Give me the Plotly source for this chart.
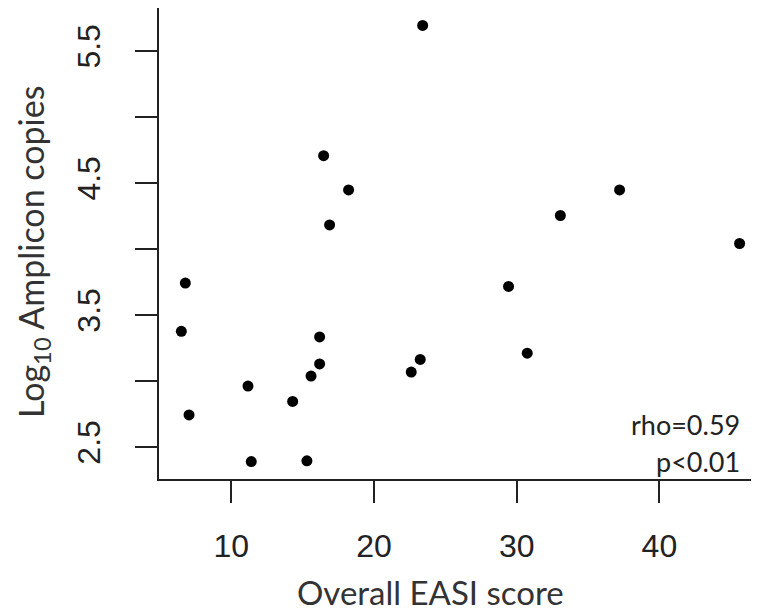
import plotly.graph_objects as go

# Data
easi_score = [6.78, 6.50, 7.04, 11.17, 11.40, 14.30, 15.30, 15.59, 16.19, 16.19, 16.47,
              16.89, 18.22, 22.61, 23.24, 23.41, 29.43, 30.74, 33.06, 37.21, 45.62]
log10_copies = [3.743, 3.378, 2.744, 2.963, 2.391, 2.847, 2.397, 3.039, 3.131, 3.335, 4.708,
                4.184, 4.449, 3.069, 3.165, 5.695, 3.718, 3.212, 4.255, 4.449, 4.043]

x_ticks = [10, 20, 30, 40]
x_tick_labels = ["10", "20", "30", "40"]
y_ticks = [2.5, 3.5, 4.5, 5.5]
y_tick_labels = ["2.5", "3.5", "4.5", "5.5"]
y_unlabelled_ticks = [3.0, 4.0, 5.0]

stat_rho = "rho=0.59"
stat_p = "p<0.01"
x_title = "Overall EASI score"
y_title = "Log<sub>10</sub> Amplicon copies"

fig = go.Figure()
fig.add_trace(go.Scatter(
    x=easi_score, y=log10_copies, mode="markers",
    marker=dict(color="black", size=11, line=dict(width=0)),
    showlegend=False, hoverinfo="x+y",
))

tick_font = dict(family="Liberation Sans, Arial, sans-serif", size=32, color="#222222")
label_font = "Lato, Open Sans, sans-serif"

# The page body adds an 8px offset, so the figure is 8px smaller than the window.
fig.update_layout(
    width=751, height=608,
    margin=dict(l=151, r=0, t=0, b=137, autoexpand=False),
    paper_bgcolor="white", plot_bgcolor="white",
    xaxis=dict(
        range=[4.935, 46.98], tickvals=x_ticks, ticktext=x_tick_labels,
        showgrid=False, zeroline=False, automargin=False,
        showline=True, mirror=True, linecolor="#222222", linewidth=2,
        ticks="outside", ticklen=22, tickwidth=2, tickcolor="#222222",
        tickfont=tick_font, ticklabelstandoff=16,
    ),
    yaxis=dict(
        range=[2.259, 5.827], tickvals=y_ticks, ticktext=y_tick_labels,
        showgrid=False, zeroline=False, automargin=False,
        showline=True, mirror=False, linecolor="#222222", linewidth=2,
        ticks="outside", ticklen=22, tickwidth=2, tickcolor="#222222",
        tickfont=tick_font, tickangle=-90, ticklabelstandoff=22,
        minor=dict(tickvals=y_unlabelled_ticks, ticks="outside", ticklen=22,
                   tickwidth=2, tickcolor="#222222", showgrid=False),
    ),
    annotations=[
        dict(text=x_title, xref="paper", yref="paper", x=0.452, y=-0.240,
             xanchor="center", yanchor="middle", showarrow=False,
             font=dict(family=label_font, size=33, color="#333333")),
        dict(text=y_title, xref="paper", yref="paper", x=-0.21, y=0.482,
             xanchor="center", yanchor="middle", showarrow=False, textangle=-90,
             borderpad=0,
             font=dict(family=label_font, size=34, color="#333333")),
        dict(text=stat_rho, xref="paper", yref="paper", x=0.972, y=0.115,
             xanchor="right", yanchor="middle", showarrow=False,
             font=dict(family=label_font, size=27, color="#222222")),
        dict(text=stat_p, xref="paper", yref="paper", x=0.972, y=0.038,
             xanchor="right", yanchor="middle", showarrow=False,
             font=dict(family=label_font, size=27, color="#222222")),
    ],
)

fig.write_html("out.html")
